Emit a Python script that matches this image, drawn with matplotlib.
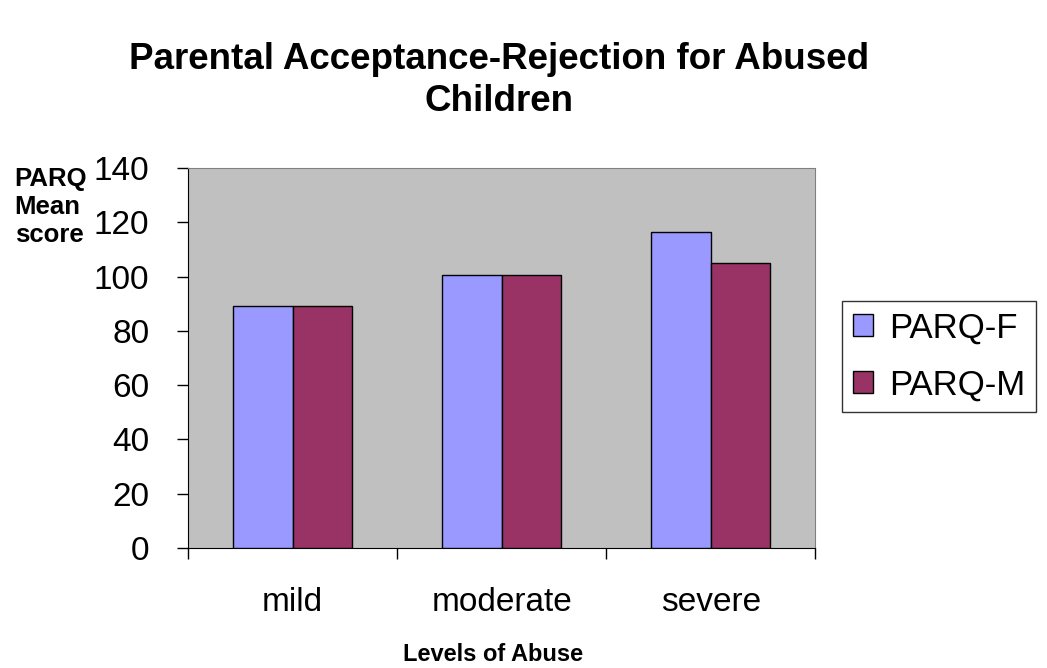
import matplotlib
matplotlib.use("Agg")
import matplotlib.pyplot as plt
import numpy as np

categories = ["mild", "moderate", "severe"]
parq_f = [89.0, 100.7, 116.5]
parq_m = [89.0, 100.7, 104.9]
series_names = ["PARQ-F", "PARQ-M"]
yticks = [0, 20, 40, 60, 80, 100, 120, 140]

plt.rcParams['font.family'] = ['Liberation Sans', 'DejaVu Sans']

fig = plt.figure(figsize=(10.47, 6.68), dpi=100)
ax = fig.add_axes([0.1796, 0.1796, 0.599, 0.569])
ax.set_facecolor('#C0C0C0')

x = np.arange(len(categories))
w = 1 / 3.5
ax.bar(x - w / 2, parq_f, width=w, color='#9999FF', edgecolor='black', linewidth=1, label=series_names[0], zorder=3)
ax.bar(x + w / 2, parq_m, width=w, color='#993366', edgecolor='black', linewidth=1, label=series_names[1], zorder=3)

ax.set_xlim(-0.5, 2.5)
ax.set_ylim(0, 140)
ax.set_yticks(yticks)
ax.tick_params(axis='y', labelsize=24, length=8, width=1, direction='out', pad=20)
ax.set_xticks(x)
ax.set_xticklabels(categories)
ax.tick_params(axis='x', length=0, labelsize=24, pad=28)
ax.set_xticks([-0.5, 0.5, 1.5, 2.5], minor=True)
ax.tick_params(axis='x', which='minor', length=8, width=1, direction='out')

for s in ['top', 'right']:
    ax.spines[s].set_color('#808080')
for s in ['left', 'bottom']:
    ax.spines[s].set_color('black')

fig.text(0.477, 0.880, "Parental Acceptance-Rejection for Abused\nChildren", ha='center', va='center',
         fontsize=26.5, fontweight='bold', linespacing=1.25)
fig.text(0.014, 0.690, "PARQ\nMean\nscore", ha='left', va='center', fontsize=18.5, fontweight='bold', linespacing=1.2)
fig.text(0.471, 0.020, "Levels of Abuse", ha='center', va='center', fontsize=17, fontweight='bold')

leg = ax.legend(loc='center left', bbox_to_anchor=(1.043, 0.504), fontsize=25, frameon=True, fancybox=False,
                edgecolor='black', handlelength=0.6, handleheight=0.6, handletextpad=0.45, borderpad=0.3,
                labelspacing=0.68, borderaxespad=0)
leg.get_frame().set_linewidth(1)

fig.savefig("out.png", dpi=100, facecolor='white')
